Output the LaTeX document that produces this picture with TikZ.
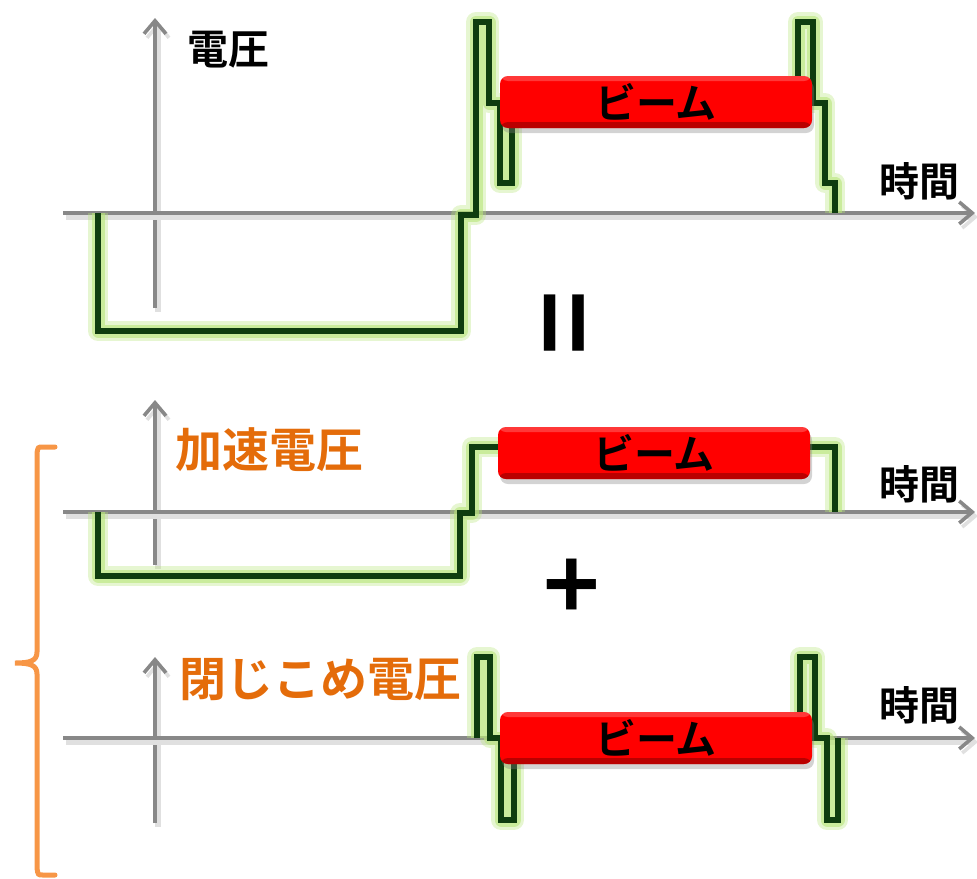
\documentclass[tikz,border=0pt]{standalone}
\usepackage{fontspec}
\newfontfamily\jpfont{Noto Sans CJK JP}[BoldFont={Noto Sans CJK JP Bold}]
\usepackage{xcolor}
\usetikzlibrary{positioning,arrows.meta,shadows}
\definecolor{wavegreen}{HTML}{0F3D0F}
\definecolor{glowgreen}{HTML}{B8E57A}
\definecolor{axisgray}{HTML}{888888}
\definecolor{labelorange}{HTML}{E46C0A}
\definecolor{braceorange}{HTML}{F79646}
\begin{document}
\begin{tikzpicture}[x=0.5pt,y=-0.5pt]%1 unit = 1 px of the reference
    \tikzstyle{axis} = [draw=axisgray, line width=1.8pt,
    -{Straight Barb[length=6.5pt,width=11pt,line width=1.8pt]},
    preaction={draw=black!12, line width=3pt, transform
    canvas={shift={(1.5pt,-2pt)}}}] \tikzstyle{wave} = [draw=wavegreen,
    line width=2.7pt, preaction={draw=glowgreen, line width=10pt,
    opacity=.35, line join=round}, preaction={draw=glowgreen, line
    width=6.5pt, opacity=.6, line join=round}] \tikzstyle{beam} =
    [rounded corners=4pt, fill=red, minimum width=156pt, minimum
    height=26pt, inner sep=0pt,
    font=\jpfont\bfseries\fontsize{20.5}{21}\selectfont,
    drop shadow={shadow xshift=1pt, shadow yshift=-2.5pt, opacity=.35},
    path picture={\fill[red!55!black, opacity=.6]
    ([yshift=3pt]path picture bounding box.south west) rectangle
    (path picture bounding box.south east); \fill[white, opacity=.22]
    (path picture bounding box.north west) rectangle
    ([yshift=-2.5pt]path picture bounding box.north east);}]
    \tikzstyle{tlabel} = [font=\jpfont\bfseries\fontsize{20}{20}\selectfont]
    \tikzstyle{olabel} = [text=labelorange,
    font=\jpfont\bfseries\fontsize{23.5}{24}\selectfont]
    \useasboundingbox (0,0) rectangle (977,878);
    % axes
    \foreach \n/\y/\b/\t/\l in {1/213/308/18/181, 2/512/565/400/484,
      3/738/823/657/705} { \coordinate (v\n s) at (155,\b);
      \coordinate (v\n e) at (155,\t); \coordinate (h\n s) at (63,\y);
      \coordinate (h\n e) at (975,\y); \draw[axis] (v\n s) -- (v\n e);
      \draw[axis] (h\n s) -- (h\n e); \node[tlabel] (time\n) at
      (919,\l) {時間}; }
    % waveforms
    \draw[wave] (98,213) -- (98,331) -- (461,331) -- (461,215) --
    (476,215) -- (476,22) -- (489,22) -- (489,103) -- (500,103) --
    (500,183) -- (512,183) -- (512,103) -- (798,103) -- (798,22) --
    (813,22) -- (813,103) -- (825,103) -- (825,183) -- (835,183) --
    (835,213);
    \draw[wave] (98,512) -- (98,576) -- (460,576) -- (460,513) --
    (472,513) -- (472,447) -- (835,447) -- (835,512);
    \draw[wave] (477,738) -- (477,657) -- (490,657) -- (490,738) --
    (501,738) -- (501,820) -- (514,820) -- (514,738) -- (800,738) --
    (800,657) -- (815,657) -- (815,738) -- (827,738) -- (827,820) --
    (838,820) -- (838,738);
    % beams
    \node[beam] (beam1) at (656,102) {ビーム}; \node[beam] (beam2) at
    (654,453) {ビーム}; \node[beam] (beam3) at (656,738) {ビーム};
    % labels
    \node[font=\jpfont\bfseries\fontsize{20.5}{21}\selectfont] (volt)
    at (228,50) {電圧}; \node[olabel] (accel) at (269,450) {加速電圧};
    \node[olabel] (trap) at (320,679) {閉じこめ電圧};
    \node[font=\jpfont\bfseries\fontsize{50}{50}\selectfont, rotate=90,
    xscale=1.1, yscale=1.1] (eq) at (575,323) {=};
    \node[font=\jpfont\bfseries\fontsize{48}{48}\selectfont] (plus) at
    (572,590) {+};
    % brace
    \draw[braceorange, line width=2.5pt, line cap=round] (55,447) --
    (43,447) .. controls (38,447) .. (37,453) -- (37,652) .. controls
    (37,661) and (30,663) .. (15,663) .. controls (30,663) and (37,665)
    .. (37,674) -- (37,868) .. controls (38,875) .. (43,875) --
    (55,875);
\end{tikzpicture}
\end{document}
